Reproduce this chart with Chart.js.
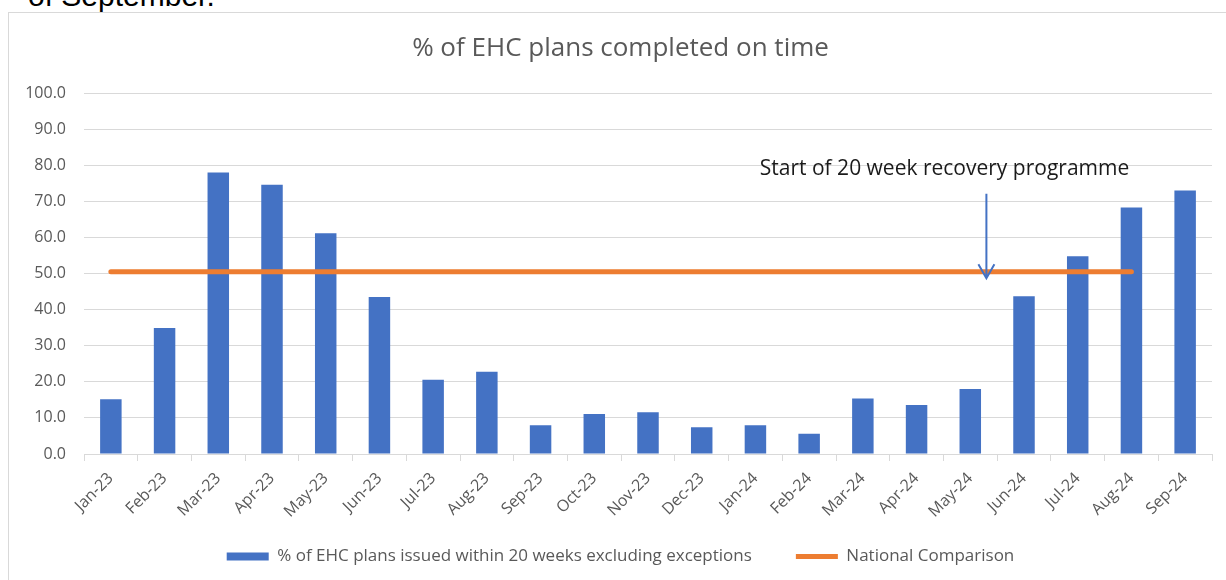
<!DOCTYPE html>
<html>
<head>
<meta charset="utf-8">
<script src="https://cdn.jsdelivr.net/npm/chart.js@4.4.1/dist/chart.umd.min.js"></script>
<style>
  body { margin: 0; background: #fff; overflow: hidden; }
  #above { position: absolute; left: 28px; top: -21px; font: 30px "Liberation Sans", Arial, sans-serif; color: #000; white-space: nowrap; }
  #box { position: absolute; left: 8px; top: 12px; width: 1240px; height: 600px; border: 1px solid #d9d9d9; }
  #wrap { position: absolute; left: 0; top: 0; width: 1218px; height: 568px; }
</style>
</head>
<body>
<div id="above">of September.</div>
<div id="box"><div id="wrap"><canvas id="canvas"></canvas></div></div>
<script>
const months = ['Jan-23','Feb-23','Mar-23','Apr-23','May-23','Jun-23','Jul-23','Aug-23','Sep-23','Oct-23',
  'Nov-23','Dec-23','Jan-24','Feb-24','Mar-24','Apr-24','May-24','Jun-24','Jul-24','Aug-24','Sep-24'];
const onTime = [15.2, 34.9, 78.0, 74.6, 61.2, 43.5, 20.6, 22.8, 8.0, 11.1,
  11.6, 7.4, 8.0, 5.6, 15.4, 13.6, 18.0, 43.7, 54.8, 68.3, 73.0];
const national = [50.5, 50.5, 50.5, 50.5, 50.5, 50.5, 50.5, 50.5, 50.5, 50.5,
  50.5, 50.5, 50.5, 50.5, 50.5, 50.5, 50.5, 50.5, 50.5, 50.5, null];
const yTicks = [0, 10, 20, 30, 40, 50, 60, 70, 80, 90, 100];

// annotation: arrow just after May-24
const arrowAt = 16.3;
const arrowFrom = 72.1;
const arrowTo = 48.7;
const noteText = 'Start of 20 week recovery programme';
const noteAt = 15.52;
const noteY = 79.0;

const grey = '#595959';
const font = 'Open Sans';

const recoveryNote = {
  id: 'recoveryNote',
  afterDatasetsDraw(chart) {
    const ctx = chart.ctx;
    const x = chart.scales.x.getPixelForValue(arrowAt);
    const y1 = chart.scales.y.getPixelForValue(arrowFrom);
    const y2 = chart.scales.y.getPixelForValue(arrowTo);
    ctx.save();
    ctx.strokeStyle = '#4472C4';
    ctx.lineWidth = 2;
    ctx.beginPath();
    ctx.moveTo(x, y1);
    ctx.lineTo(x, y2);
    ctx.moveTo(x - 8, y2 - 14);
    ctx.lineTo(x, y2);
    ctx.lineTo(x + 8, y2 - 14);
    ctx.stroke();
    ctx.fillStyle = '#1a1a1a';
    ctx.font = '21px "' + font + '"';
    ctx.textAlign = 'center';
    ctx.textBaseline = 'middle';
    ctx.fillText(noteText, chart.scales.x.getPixelForValue(noteAt), chart.scales.y.getPixelForValue(noteY));
    ctx.restore();
  }
};

new Chart(document.getElementById('canvas'), {
  data: {
    labels: months,
    datasets: [
      {
        type: 'line',
        label: 'National Comparison',
        data: national,
        borderColor: '#ED7D31',
        backgroundColor: '#ED7D31',
        borderWidth: 5,
        borderCapStyle: 'round',
        pointRadius: 0,
        pointStyle: 'line',
        order: 0
      },
      {
        type: 'bar',
        label: '% of EHC plans issued within 20 weeks excluding exceptions',
        data: onTime,
        backgroundColor: '#4472C4',
        barPercentage: 0.4,
        categoryPercentage: 1,
        pointStyle: 'rect',
        order: 1
      }
    ]
  },
  options: {
    responsive: true,
    maintainAspectRatio: false,
    animation: false,
    layout: { padding: { left: 20, right: 15, top: 0, bottom: 6 } },
    plugins: {
      title: {
        display: true,
        text: '% of EHC plans completed on time',
        color: grey,
        font: { family: font, size: 26, weight: 'normal' },
        padding: { top: 20, bottom: 29 }
      },
      legend: {
        position: 'bottom',
        reverse: true,
        labels: {
          color: grey,
          font: { family: font, size: 17 },
          usePointStyle: true,
          pointStyleWidth: 42,
          boxHeight: 8,
          padding: 44
        }
      },
      tooltip: { enabled: false }
    },
    scales: {
      x: {
        offset: true,
        grid: { offset: true, drawOnChartArea: false, color: '#d9d9d9', tickLength: 7 },
        border: { color: '#d9d9d9' },
        ticks: { color: grey, font: { family: font, size: 16 }, minRotation: 45, maxRotation: 45, padding: 8 },
        afterFit(s) {
          s.height = 50;
          // let the rotated labels run past the axis box
          s._computeLabelArea = () => undefined;
        }
      },
      y: {
        min: 0,
        max: 100,
        afterBuildTicks(s) { s.ticks = yTicks.map(v => ({ value: v })); },
        grid: { color: '#d9d9d9', drawTicks: false },
        border: { display: false },
        ticks: { color: grey, font: { family: font, size: 16 }, padding: 18, callback: v => v.toFixed(1) },
        afterFit(s) {
          s.width = 55;
          s._computeLabelArea = () => undefined;
        }
      }
    }
  },
  plugins: [recoveryNote]
});
</script>
</body>
</html>
